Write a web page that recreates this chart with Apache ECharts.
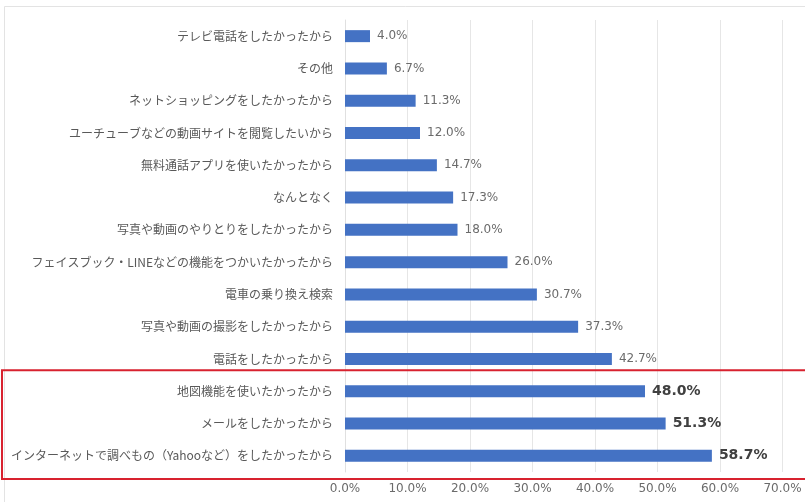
<!DOCTYPE html>
<html>
<head>
<meta charset="utf-8">
<script src="https://cdn.jsdelivr.net/npm/echarts@6/dist/echarts.min.js"></script>
<style>
  html, body { margin: 0; padding: 0; background: #fff; }
  #chart { width: 805px; height: 502px; }
</style>
</head>
<body>
<div id="chart"></div>
<script>
// Reasons for starting to use a smartphone (%), top to bottom
const categories = [
  'テレビ電話をしたかったから',
  'その他',
  'ネットショッピングをしたかったから',
  'ユーチューブなどの動画サイトを閲覧したいから',
  '無料通話アプリを使いたかったから',
  'なんとなく',
  '写真や動画のやりとりをしたかったから',
  'フェイスブック・LINEなどの機能をつかいたかったから',
  '電車の乗り換え検索',
  '写真や動画の撮影をしたかったから',
  '電話をしたかったから',
  '地図機能を使いたかったから',
  'メールをしたかったから',
  'インターネットで調べもの（Yahooなど）をしたかったから'
];
const values = [4.0, 6.7, 11.3, 12.0, 14.7, 17.3, 18.0, 26.0, 30.7, 37.3, 42.7, 48.0, 51.3, 58.7];
// Top three reasons are emphasised (bold labels, red frame)
const highlighted = [11, 12, 13];
const axisTicks = [0, 10, 20, 30, 40, 50, 60, 70];

const chart = echarts.init(document.getElementById('chart'));

const seriesData = values.map((v, i) => {
  const hot = highlighted.includes(i);
  return {
    value: v,
    label: hot
      ? { fontFamily: 'DejaVu Sans', fontWeight: 'bold', fontSize: 14, color: '#404040' }
      : { fontFamily: 'DejaVu Sans', fontSize: 12, color: '#6b6b6b' }
  };
});

chart.setOption({
  animation: false,
  backgroundColor: '#ffffff',
  grid: { left: 345, right: 22.5, top: 20, bottom: 30, containLabel: false },
  xAxis: {
    type: 'value',
    min: axisTicks[0],
    max: axisTicks[axisTicks.length - 1],
    interval: 10,
    axisLine: { show: false },
    axisTick: { show: false },
    splitLine: { show: true, lineStyle: { color: '#e6e6e6', width: 1 } },
    axisLabel: {
      margin: 11,
      fontFamily: 'DejaVu Sans',
      fontSize: 12,
      color: '#6b6b6b',
      formatter: v => v.toFixed(1) + '%'
    }
  },
  yAxis: {
    type: 'category',
    data: categories,
    inverse: true,
    axisLine: { show: true, lineStyle: { color: '#e0e0e0' } },
    axisTick: { show: false },
    axisLabel: {
      margin: 12,
      fontFamily: 'Noto Sans CJK JP',
      fontSize: 12,
      color: '#595959'
    }
  },
  series: [{
    type: 'bar',
    data: seriesData,
    barWidth: 12,
    itemStyle: { color: '#4472c4' },
    label: {
      show: true,
      position: 'right',
      distance: 7,
      formatter: p => p.value.toFixed(1) + '%'
    }
  }]
});

// Chart-area border and the red frame around the top three reasons,
// positioned from the category axis itself.
const first = highlighted[0];
const yTop = chart.convertToPixel({ yAxisIndex: 0 }, first);
const yNext = chart.convertToPixel({ yAxisIndex: 0 }, first + 1);
const band = yNext - yTop;
const frameTop = yTop - band / 2 - 5;
const gridBottom = 502 - 30;
chart.setOption({
  graphic: [
    {
      type: 'rect',
      shape: { x: 4.5, y: 6.5, width: 820, height: 520 },
      style: { fill: 'none', stroke: '#e3e3e3', lineWidth: 1 },
      silent: true,
      z: 0
    },
    {
      type: 'rect',
      shape: { x: 2, y: frameTop, width: 820, height: gridBottom + 7 - frameTop },
      style: { fill: 'none', stroke: '#d8222f', lineWidth: 2 },
      silent: true,
      z: 100
    }
  ]
});
</script>
</body>
</html>
